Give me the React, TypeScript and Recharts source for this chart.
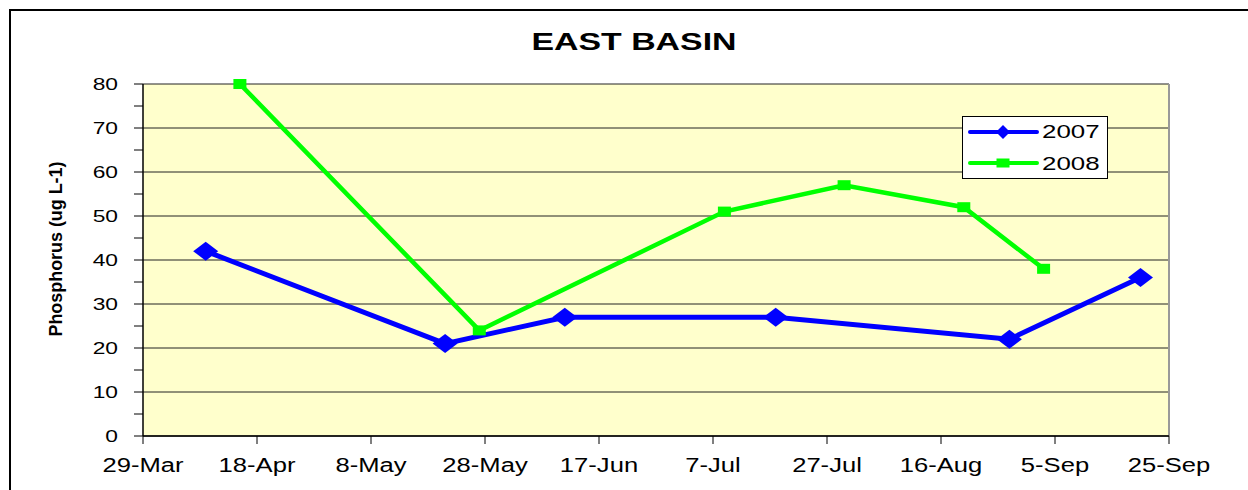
import React from 'react';
import { LineChart, Line, XAxis, YAxis, CartesianGrid, ReferenceLine } from 'recharts';

const TITLE = 'EAST BASIN';
const Y_LABEL = 'Phosphorus (ug L-1)';
const X_TICK_DAYS = [0, 20, 40, 60, 80, 100, 120, 140, 160, 180];
const X_TICK_LABELS = ['29-Mar', '18-Apr', '8-May', '28-May', '17-Jun', '7-Jul', '27-Jul', '16-Aug', '5-Sep', '25-Sep'];
const Y_TICKS = [0, 5, 10, 15, 20, 25, 30, 35, 40, 45, 50, 55, 60, 65, 70, 75, 80];
const Y_GRID = [0, 10, 20, 30, 40, 50, 60, 70, 80];

// days since 29-Mar
const DAYS_2007 = [11, 53, 74, 111, 152, 175];
const VALUES_2007 = [42, 21, 27, 27, 22, 36];
const DAYS_2008 = [17, 59, 102, 123, 144, 158];
const VALUES_2008 = [80, 24, 51, 57, 52, 38];
const SERIES_NAMES = ['2007', '2008'];

const data2007 = DAYS_2007.map((d, i) => ({ day: d, v: VALUES_2007[i] }));
const data2008 = DAYS_2008.map((d, i) => ({ day: d, v: VALUES_2008[i] }));

const FONT = '"Liberation Sans", Arial, sans-serif';
const BLUE = '#0000FF';
const GREEN = '#00FF00';

const Diamond = (props: any) => {
  const { cx, cy, index } = props;
  if (cx == null || cy == null) return <g key={`dd-${index}`} />;
  const w = 12.5, h = 9.5;
  return (
    <path key={`d-${index}`} d={`M${cx - w},${cy} L${cx},${cy - h} L${cx + w},${cy} L${cx},${cy + h} Z`} fill={BLUE} stroke="none" />
  );
};

const Square = (props: any) => {
  const { cx, cy, index } = props;
  if (cx == null || cy == null) return <g key={`ss-${index}`} />;
  return <rect key={`s-${index}`} x={cx - 6.5} y={cy - 5} width={13} height={10} fill={GREEN} />;
};

const YTick = (props: any) => {
  const { x, y, payload } = props;
  if (payload.value % 10 !== 0) return <g />;
  return (
    <g transform={`translate(${x},${y}) scale(1.38,1)`}>
      <text x={0} y={0} dy="0.36em" textAnchor="end" fontSize={16.5} fill="#000" fontFamily={FONT}>
        {payload.value}
      </text>
    </g>
  );
};

const XTick = (props: any) => {
  const { x, y, payload } = props;
  const idx = X_TICK_DAYS.indexOf(payload.value);
  return (
    <g transform={`translate(${x},${y + 26}) scale(1.28,1)`}>
      <text x={0} y={0} textAnchor="middle" fontSize={20} fill="#000" fontFamily={FONT}>
        {X_TICK_LABELS[idx]}
      </text>
    </g>
  );
};

const LegendBox = () => (
  <div style={{ position: 'absolute', left: 962, top: 116, width: 146, height: 63, border: '1px solid #000', background: '#fff', boxSizing: 'border-box' }}>
    <svg width={144} height={61} style={{ display: 'block' }}>
      <line x1={7} x2={74} y1={15} y2={15} stroke={BLUE} strokeWidth={4} strokeLinecap="round" />
      <path d="M33,15 L40,8 L47,15 L40,22 Z" fill={BLUE} />
      <g transform="translate(79,21) scale(1.4,1)">
        <text x={0} y={0} fontSize={18.5} fontFamily={FONT} fill="#000">{SERIES_NAMES[0]}</text>
      </g>
      <line x1={7} x2={74} y1={46} y2={46} stroke={GREEN} strokeWidth={4} strokeLinecap="round" />
      <rect x={33.5} y={41.5} width={13} height={9} fill={GREEN} />
      <g transform="translate(79,53) scale(1.4,1)">
        <text x={0} y={0} fontSize={18.5} fontFamily={FONT} fill="#000">{SERIES_NAMES[1]}</text>
      </g>
    </svg>
  </div>
);

export default function App() {
  return (
    <div style={{ position: 'absolute', left: 0, top: 0, width: 1248, height: 490, overflow: 'hidden', background: '#fff', fontFamily: FONT }}>
      <div style={{ position: 'absolute', left: 9, top: 9, width: 1400, height: 700, border: '2px solid #000' }} />
      <div style={{ position: 'absolute', left: 0, top: 0 }}>
        <LineChart width={1248} height={490} margin={{ top: 84, right: 79, bottom: 24, left: 83 }}>
          <CartesianGrid horizontal vertical={false} fill="#FFFFCC" stroke="#222" strokeWidth={1} horizontalValues={Y_GRID} />
          <XAxis
            type="number"
            dataKey="day"
            domain={[0, 180]}
            ticks={X_TICK_DAYS}
            interval={0}
            allowDataOverflow
            height={30}
            tickSize={8}
            tickMargin={2}
            axisLine={{ stroke: '#000', strokeWidth: 1.5 }}
            tickLine={{ stroke: '#000' }}
            tick={<XTick />}
          />
          <YAxis
            type="number"
            domain={[0, 80]}
            ticks={Y_TICKS}
            interval={0}
            width={60}
            tickSize={9}
            tickMargin={16}
            axisLine={{ stroke: '#000', strokeWidth: 1.5 }}
            tickLine={{ stroke: '#000' }}
            tick={<YTick />}
          />
          <ReferenceLine x={180} stroke="#999" strokeWidth={2} />
          <Line data={data2007} dataKey="v" name={SERIES_NAMES[0]} type="linear" stroke={BLUE} strokeWidth={5} dot={Diamond} activeDot={false} isAnimationActive={false} />
          <Line data={data2008} dataKey="v" name={SERIES_NAMES[1]} type="linear" stroke={GREEN} strokeWidth={4.5} dot={Square} activeDot={false} isAnimationActive={false} />
        </LineChart>
      </div>
      <LegendBox />
      <svg width={1248} height={490} style={{ position: 'absolute', left: 0, top: 0, pointerEvents: 'none' }}>
        <text x={634} y={50} textAnchor="middle" fontSize={23} fontWeight="bold" fontFamily={FONT} textLength={205} lengthAdjust="spacingAndGlyphs" fill="#000">
          {TITLE}
        </text>
        <text transform="translate(62,249) rotate(-90)" x={0} y={0} textAnchor="middle" fontSize={19} fontWeight="bold" fontFamily={FONT} textLength={175} lengthAdjust="spacingAndGlyphs" fill="#000">
          {Y_LABEL}
        </text>
      </svg>
    </div>
  );
}
